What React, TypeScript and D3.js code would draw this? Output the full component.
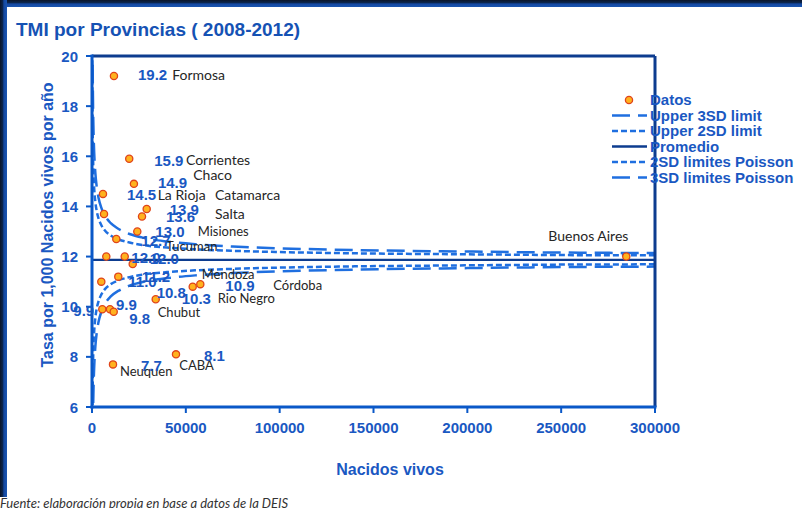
import React from 'react';
import * as d3 from 'd3';

// ---------- data ----------
const births = [11700, 19840, 22340, 5850, 6400, 26650, 29150, 12950, 24140, 7620, 17430, 21690, 4960, 14010, 33950, 53660, 57710, 5490, 9590, 11560, 11190, 44760, 284700];
const rates = [19.2, 15.9, 14.9, 14.5, 13.7, 13.6, 13.9, 12.7, 13.0, 12.0, 12.0, 11.7, 11.0, 11.2, 10.3, 10.8, 10.9, 9.9, 9.9, 9.8, 7.7, 8.1, 12.0];

const promedio = 11.87;
const limitBirths = [150, 300, 500, 800, 1200, 1800, 2500, 3500, 5000, 7000, 10000, 14000, 20000, 28000, 40000, 55000, 75000, 100000, 140000, 200000, 250000, 300000];
const upper3 = [23.80, 20.31, 18.41, 17.04, 16.09, 15.32, 14.79, 14.34, 13.94, 13.62, 13.33, 13.11, 12.90, 12.74, 12.60, 12.49, 12.40, 12.33, 12.26, 12.20, 12.16, 12.14];
const upper2 = [19.83, 17.50, 16.23, 15.32, 14.68, 14.17, 13.82, 13.52, 13.25, 13.03, 12.84, 12.69, 12.56, 12.45, 12.36, 12.29, 12.23, 12.18, 12.13, 12.09, 12.06, 12.05];
const lower2 = [3.91, 6.24, 7.51, 8.43, 9.06, 9.57, 9.92, 10.22, 10.49, 10.71, 10.90, 11.05, 11.18, 11.29, 11.38, 11.45, 11.51, 11.56, 11.61, 11.65, 11.68, 11.69];
const lower3 = [-0.06, 3.43, 5.33, 6.70, 7.65, 8.43, 8.95, 9.40, 9.80, 10.12, 10.41, 10.63, 10.84, 11.00, 11.14, 11.25, 11.34, 11.41, 11.48, 11.54, 11.58, 11.60];

const yTicks = [6, 8, 10, 12, 14, 16, 18, 20];
const xTicks = [0, 50000, 100000, 150000, 200000, 250000, 300000];

const legendLabels = ['Datos', 'Upper 3SD limit', 'Upper 2SD limit', 'Promedio', '2SD limites Poisson', '3SD limites Poisson'];

// value labels: point index
const valueLabelPoints = [0, 1, 2, 3, 6, 5, 8, 7, 9, 10, 13, 12, 16, 14, 15, 17, 18, 19, 20, 21];
// layout offsets (px) for value labels
const valueLabelOffsets: [number, number][] = [
  [24, 4], [25, 7], [24, 4.5], [24, 6], [23, 6], [24, 5.5], [18, 5], [25, 7], [25, 6], [25, 7.5],
  [23.5, 5], [27, 5], [25, 6.5], [26, 5], [-36, 11], [-29, 7], [6, 1], [15.5, 12.5], [28, 7], [28, 7],
];

const nameLabels = ['Formosa', 'Corrientes', 'Chaco', 'La Rioja', 'Catamarca', 'Salta', 'Misiones', 'Tucuman', 'Mendoza', 'Córdoba', 'Rio Negro', 'Chubut', 'Neuquen', 'CABA', 'Buenos Aires'];
const nameLabelPoints = [0, 1, 2, 3, 4, 6, 8, 11, 14, 16, 14, 18, 20, 21, 22];
// layout: dx, dy, font size
const nameLabelLayout: [number, number, number][] = [
  [58.3, 4, 14], [56.7, 6, 14], [59.3, -4, 14], [54.7, 6, 14], [111, -14, 14], [68.3, 10.4, 14],
  [60.4, 4.2, 13], [33.3, -13.4, 13], [46, -20.2, 13], [73, 5.9, 13], [62, 4.1, 13], [47.7, 7.5, 13],
  [7, 11.8, 13], [3.3, 15.8, 13], [-78, -16, 14],
];

// ---------- layout ----------
const W = 802, H = 508;
const X0 = 92, X1 = 655, Y0 = 56, Y1 = 407;
const BLUE_TXT = '#1a58c2';
const LIMIT = '#1f6fe0';
const NAVY = '#0d3c8f';
const AXIS = '#0a58c8';
const BOLD = '"Liberation Sans", Arial, sans-serif';
const NAMEF = 'Lato, "Open Sans", sans-serif';

const x = d3.scaleLinear().domain([0, 300000]).range([X0, X1]);
const y = d3.scaleLinear().domain([6, 20]).range([Y1, Y0]);

const lineGen = d3.line<number>()
  .x((_, i) => x(limitBirths[i]))
  .y((d) => y(d))
  .curve(d3.curveMonotoneX);

const DASH3 = '18 8';
const DASH2 = '6 3';

export default function App() {
  const legendY = [100, 115.5, 131, 146.5, 162, 177.5];
  const legendStyles = [null, { dash: DASH3, color: LIMIT, w: 2.5 }, { dash: DASH2, color: LIMIT, w: 2.5 }, { dash: null, color: NAVY, w: 2.5 }, { dash: DASH2, color: LIMIT, w: 2.5 }, { dash: DASH3, color: LIMIT, w: 2.5 }];
  return (
    <svg width={W} height={H} style={{ position: 'absolute', left: 0, top: 0, background: '#fff' }}>
      <defs>
        <clipPath id="plotclip">
          <rect x={X0} y={Y0} width={X1 - X0} height={Y1 - Y0} />
        </clipPath>
        <linearGradient id="topband" x1="0" y1="0" x2="0" y2="1">
          <stop offset="0" stopColor="#0a1428" />
          <stop offset="0.4" stopColor="#0b2650" />
          <stop offset="0.55" stopColor="#1447a0" />
          <stop offset="1" stopColor="#1a55b0" />
        </linearGradient>
        <linearGradient id="leftband" x1="0" y1="0" x2="1" y2="0">
          <stop offset="0" stopColor="#0a1428" />
          <stop offset="0.4" stopColor="#0b2650" />
          <stop offset="0.55" stopColor="#1447a0" />
          <stop offset="1" stopColor="#1a55b0" />
        </linearGradient>
      </defs>
      <rect x={0} y={0} width={W} height={H} fill="#fff" />
      {/* frame */}
      <rect x={0} y={0} width={W} height={7} fill="url(#topband)" />
      <rect x={0} y={0} width={7} height={497} fill="url(#leftband)" />

      {/* title */}
      <text x={16} y={36} fontFamily={BOLD} fontWeight="bold" fontSize={19} fill="#1552b4">TMI por Provincias ( 2008-2012)</text>

      {/* limit curves */}
      <g clipPath="url(#plotclip)" fill="none">
        <path d={lineGen(upper3) || ''} stroke={LIMIT} strokeWidth={2.5} strokeDasharray={DASH3} />
        <path d={lineGen(upper2) || ''} stroke={LIMIT} strokeWidth={2.5} strokeDasharray={DASH2} />
        <path d={lineGen(lower2) || ''} stroke={LIMIT} strokeWidth={2.5} strokeDasharray={DASH2} />
        <path d={lineGen(lower3) || ''} stroke={LIMIT} strokeWidth={2.5} strokeDasharray={DASH3} />
        <line x1={x(0)} x2={x(300000)} y1={y(promedio)} y2={y(promedio)} stroke={NAVY} strokeWidth={2.2} />
      </g>

      {/* axes */}
      <line x1={X0} x2={X1} y1={Y0} y2={Y0} stroke={NAVY} strokeWidth={3} />
      <line x1={X1} x2={X1} y1={Y0} y2={Y1} stroke={NAVY} strokeWidth={3} />
      <line x1={X0} x2={X0} y1={Y0 - 1.5} y2={Y1 + 1.5} stroke={AXIS} strokeWidth={3} />
      <line x1={X0 - 1.5} x2={X1 + 1.5} y1={Y1} y2={Y1} stroke={AXIS} strokeWidth={3} />
      {yTicks.map((t) => (
        <g key={'yt' + t}>
          <line x1={X0 - 6} x2={X0} y1={y(t)} y2={y(t)} stroke={AXIS} strokeWidth={2} />
          <text x={78} y={y(t) + 5.5} textAnchor="end" fontFamily={BOLD} fontWeight="bold" fontSize={15} fill={BLUE_TXT}>{t}</text>
        </g>
      ))}
      {xTicks.map((t) => (
        <g key={'xt' + t}>
          <line x1={x(t)} x2={x(t)} y1={Y1} y2={Y1 + 6} stroke={AXIS} strokeWidth={2} />
          <text x={x(t)} y={433} textAnchor="middle" fontFamily={BOLD} fontWeight="bold" fontSize={15} fill={BLUE_TXT}>{t}</text>
        </g>
      ))}

      {/* axis titles */}
      <text x={390} y={475} textAnchor="middle" fontFamily={BOLD} fontWeight="bold" fontSize={16} fill={BLUE_TXT}>Nacidos vivos</text>
      <text transform="translate(53,225) rotate(-90)" textAnchor="middle" fontFamily={BOLD} fontWeight="bold" fontSize={16} fill={BLUE_TXT}>Tasa por 1,000 Nacidos vivos por año</text>

      {/* points */}
      {births.map((b, i) => (
        <circle key={'p' + i} cx={x(b)} cy={y(rates[i])} r={3.6} fill="#ffb21e" stroke="#e0441a" strokeWidth={1.3} />
      ))}

      {/* name labels */}
      {nameLabels.map((n, i) => {
        const p = nameLabelPoints[i];
        const [dx, dy, fs] = nameLabelLayout[i];
        return (
          <text key={'n' + i} x={x(births[p]) + dx} y={y(rates[p]) + dy} fontFamily={NAMEF} fontSize={fs} fill="#262626">{n}</text>
        );
      })}

      {/* value labels */}
      {valueLabelPoints.map((p, i) => {
        const [dx, dy] = valueLabelOffsets[i];
        return (
          <text key={'v' + i} x={x(births[p]) + dx} y={y(rates[p]) + dy} fontFamily={BOLD} fontWeight="bold" fontSize={15} fill={BLUE_TXT}>{rates[p].toFixed(1)}</text>
        );
      })}

      {/* legend */}
      {legendLabels.map((l, i) => {
        const st = legendStyles[i];
        const cy = legendY[i];
        return (
          <g key={'lg' + i}>
            {st ? (
              <line x1={612} x2={647} y1={cy} y2={cy} stroke={st.color} strokeWidth={st.w} strokeDasharray={st.dash || undefined} />
            ) : (
              <circle cx={629} cy={cy} r={3.6} fill="#ffb21e" stroke="#e0441a" strokeWidth={1.3} />
            )}
            <text x={650} y={cy + 5.3} fontFamily={BOLD} fontWeight="bold" fontSize={15} fill={BLUE_TXT}>{l}</text>
          </g>
        );
      })}

      {/* source */}
      <text x={0} y={508} fontFamily={NAMEF} fontStyle="italic" fontSize={13} fill="#333">Fuente: elaboración propia en base a datos de la DEIS</text>
    </svg>
  );
}
